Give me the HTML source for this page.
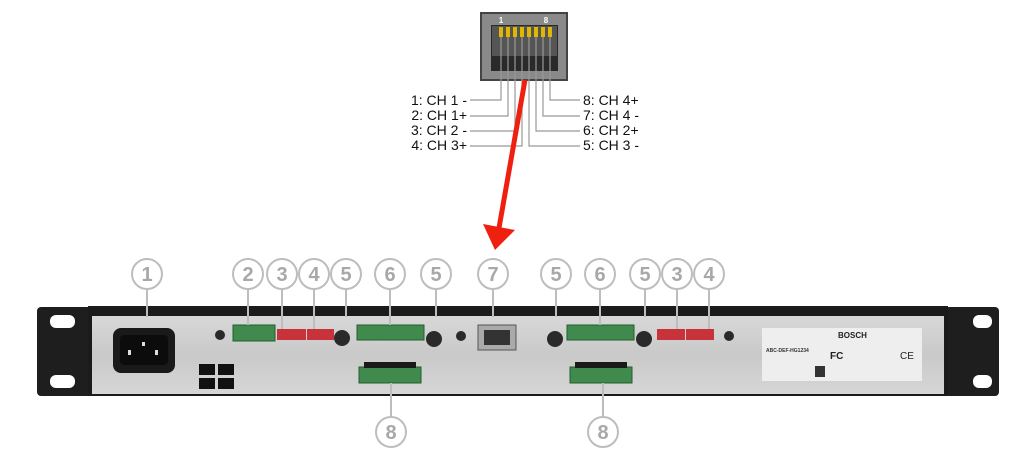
<!DOCTYPE html>
<html><head><meta charset="utf-8"><style>
html,body{margin:0;padding:0;background:#fff;width:1024px;height:464px;overflow:hidden}
svg{display:block}
.c{fill:#fff;stroke:#bdbdbd;stroke-width:2}
.n{font-family:"Liberation Sans",sans-serif;font-size:20px;font-weight:bold;fill:#a8a8a8;text-anchor:middle}
.l{stroke:#bdbdbd;stroke-width:2}
.t{font-family:"Liberation Sans",sans-serif;font-size:14px;fill:#111}
.w{stroke:#999;stroke-width:1.2;fill:none}
</style></head><body>
<svg width="1024" height="464" viewBox="0 0 1024 464">
<defs>
<linearGradient id="pl" x1="0" y1="0" x2="0" y2="1"><stop offset="0" stop-color="#d8d8d8"/><stop offset="0.5" stop-color="#c9c9c9"/><stop offset="1" stop-color="#d6d6d6"/></linearGradient>
</defs>
<!-- RJ45 top -->
<rect x="481" y="13" width="86" height="67" fill="#8a8a8a" stroke="#444" stroke-width="2"/>
<rect x="491" y="25" width="67" height="46" fill="#2a2a2a"/>
<rect x="492" y="26" width="65" height="30" fill="#555"/>
<text x="501" y="23" font-family="Liberation Sans" font-size="8" font-weight="bold" fill="#fff" text-anchor="middle">1</text>
<text x="546" y="23" font-family="Liberation Sans" font-size="8" font-weight="bold" fill="#fff" text-anchor="middle">8</text>
<g fill="#e0b800">
<rect x="499" y="27" width="4" height="10"/><rect x="506" y="27" width="4" height="10"/><rect x="513" y="27" width="4" height="10"/><rect x="520" y="27" width="4" height="10"/><rect x="527" y="27" width="4" height="10"/><rect x="534" y="27" width="4" height="10"/><rect x="541" y="27" width="4" height="10"/><rect x="548" y="27" width="4" height="10"/>
</g>
<g class="w">
<path d="M501 37V100H470"/><path d="M508 37V116H470"/><path d="M515 37V131H470"/><path d="M522 37V146H470"/>
<path d="M550 37V100H580"/><path d="M543 37V116H580"/><path d="M536 37V131H580"/><path d="M529 37V146H580"/>
</g>
<text class="t" x="467" y="105" text-anchor="end">1: CH 1 -</text>
<text class="t" x="467" y="120" text-anchor="end">2: CH 1+</text>
<text class="t" x="467" y="135" text-anchor="end">3: CH 2 -</text>
<text class="t" x="467" y="150" text-anchor="end">4: CH 3+</text>
<text class="t" x="583" y="105">8: CH 4+</text>
<text class="t" x="583" y="120">7: CH 4 -</text>
<text class="t" x="583" y="135">6: CH 2+</text>
<text class="t" x="583" y="150">5: CH 3 -</text>
<!-- arrow -->
<line x1="525" y1="80" x2="499" y2="228" stroke="#f02010" stroke-width="5"/>
<polygon points="483,224 515,230 495,250" fill="#f02010"/>
<!-- chassis -->
<rect x="37" y="307" width="57" height="89" rx="4" fill="#1e1e1e"/>
<rect x="50" y="315" width="25" height="13" rx="6" fill="#fff"/>
<rect x="50" y="375" width="25" height="13" rx="6" fill="#fff"/>
<rect x="945" y="307" width="54" height="89" rx="4" fill="#1e1e1e"/>
<rect x="973" y="315" width="19" height="13" rx="6" fill="#fff"/>
<rect x="973" y="375" width="19" height="13" rx="6" fill="#fff"/>
<rect x="88" y="306" width="860" height="90" fill="#1b1b1b"/>
<rect x="92" y="316" width="852" height="78" fill="url(#pl)"/>
<!-- power -->
<rect x="113" y="328" width="62" height="45" rx="8" fill="#1a1a1a"/>
<rect x="120" y="335" width="48" height="30" rx="4" fill="#0c0c0c"/>
<rect x="128" y="350" width="3" height="5" fill="#ddd"/><rect x="142" y="342" width="3" height="4" fill="#ddd"/><rect x="155" y="350" width="3" height="5" fill="#ddd"/>
<g fill="#111"><rect x="199" y="364" width="16" height="11"/><rect x="218" y="364" width="16" height="11"/><rect x="199" y="378" width="16" height="11"/><rect x="218" y="378" width="16" height="11"/></g>
<!-- knobs -->
<g fill="#2a2a2a"><circle cx="220" cy="335" r="5"/><circle cx="342" cy="338" r="8"/><circle cx="434" cy="339" r="8"/><circle cx="461" cy="336" r="5"/><circle cx="555" cy="339" r="8"/><circle cx="644" cy="339" r="8"/><circle cx="729" cy="336" r="5"/></g>
<!-- green -->
<g fill="#3f8a4c" stroke="#255d30"><rect x="233" y="325" width="42" height="16"/><rect x="357" y="325" width="67" height="15"/><rect x="567" y="325" width="67" height="15"/><rect x="359" y="367" width="62" height="16"/><rect x="570" y="367" width="62" height="16"/></g>
<g fill="#1a1a1a"><rect x="364" y="362" width="52" height="6"/><rect x="575" y="362" width="52" height="6"/></g>
<!-- red dips -->
<g fill="#c8323a"><rect x="277" y="329" width="29" height="11"/><rect x="307" y="329" width="27" height="11"/><rect x="657" y="329" width="28" height="11"/><rect x="686" y="329" width="28" height="11"/></g>
<!-- rj45 -->
<rect x="478" y="325" width="38" height="25" fill="#aaa" stroke="#555"/>
<rect x="484" y="330" width="26" height="15" fill="#333"/>
<!-- label -->
<rect x="762" y="328" width="160" height="53" fill="#eee"/>
<text x="838" y="338" font-family="Liberation Sans" font-size="8" font-weight="bold" fill="#222">BOSCH</text>
<text x="766" y="352" font-family="Liberation Sans" font-size="5" font-weight="bold" fill="#333">ABC-DEF-HG1234</text>
<text x="830" y="359" font-family="Liberation Sans" font-size="10" font-weight="bold" fill="#222">FC</text>
<text x="900" y="359" font-family="Liberation Sans" font-size="10" fill="#222">CE</text>
<rect x="815" y="366" width="10" height="11" fill="#333"/>
<!-- leaders -->
<g class="l">
<line x1="147" y1="289" x2="147" y2="317"/><line x1="248" y1="289" x2="248" y2="325"/><line x1="282" y1="289" x2="282" y2="329"/><line x1="314" y1="289" x2="314" y2="329"/><line x1="346" y1="289" x2="346" y2="317"/><line x1="390" y1="289" x2="390" y2="325"/><line x1="436" y1="289" x2="436" y2="317"/><line x1="493" y1="289" x2="493" y2="317"/><line x1="556" y1="289" x2="556" y2="317"/><line x1="600" y1="289" x2="600" y2="325"/><line x1="645" y1="289" x2="645" y2="317"/><line x1="677" y1="289" x2="677" y2="329"/><line x1="709" y1="289" x2="709" y2="329"/>
<line x1="391" y1="383" x2="391" y2="417"/><line x1="603" y1="383" x2="603" y2="417"/>
</g>
<g>
<circle class="c" cx="147" cy="274" r="15"/><text class="n" x="147" y="281">1</text>
<circle class="c" cx="248" cy="274" r="15"/><text class="n" x="248" y="281">2</text>
<circle class="c" cx="282" cy="274" r="15"/><text class="n" x="282" y="281">3</text>
<circle class="c" cx="314" cy="274" r="15"/><text class="n" x="314" y="281">4</text>
<circle class="c" cx="346" cy="274" r="15"/><text class="n" x="346" y="281">5</text>
<circle class="c" cx="390" cy="274" r="15"/><text class="n" x="390" y="281">6</text>
<circle class="c" cx="436" cy="274" r="15"/><text class="n" x="436" y="281">5</text>
<circle class="c" cx="493" cy="274" r="15"/><text class="n" x="493" y="281">7</text>
<circle class="c" cx="556" cy="274" r="15"/><text class="n" x="556" y="281">5</text>
<circle class="c" cx="600" cy="274" r="15"/><text class="n" x="600" y="281">6</text>
<circle class="c" cx="645" cy="274" r="15"/><text class="n" x="645" y="281">5</text>
<circle class="c" cx="677" cy="274" r="15"/><text class="n" x="677" y="281">3</text>
<circle class="c" cx="709" cy="274" r="15"/><text class="n" x="709" y="281">4</text>
<circle class="c" cx="391" cy="432" r="15"/><text class="n" x="391" y="439">8</text>
<circle class="c" cx="603" cy="432" r="15"/><text class="n" x="603" y="439">8</text>
</g>
</svg>
</body></html>
